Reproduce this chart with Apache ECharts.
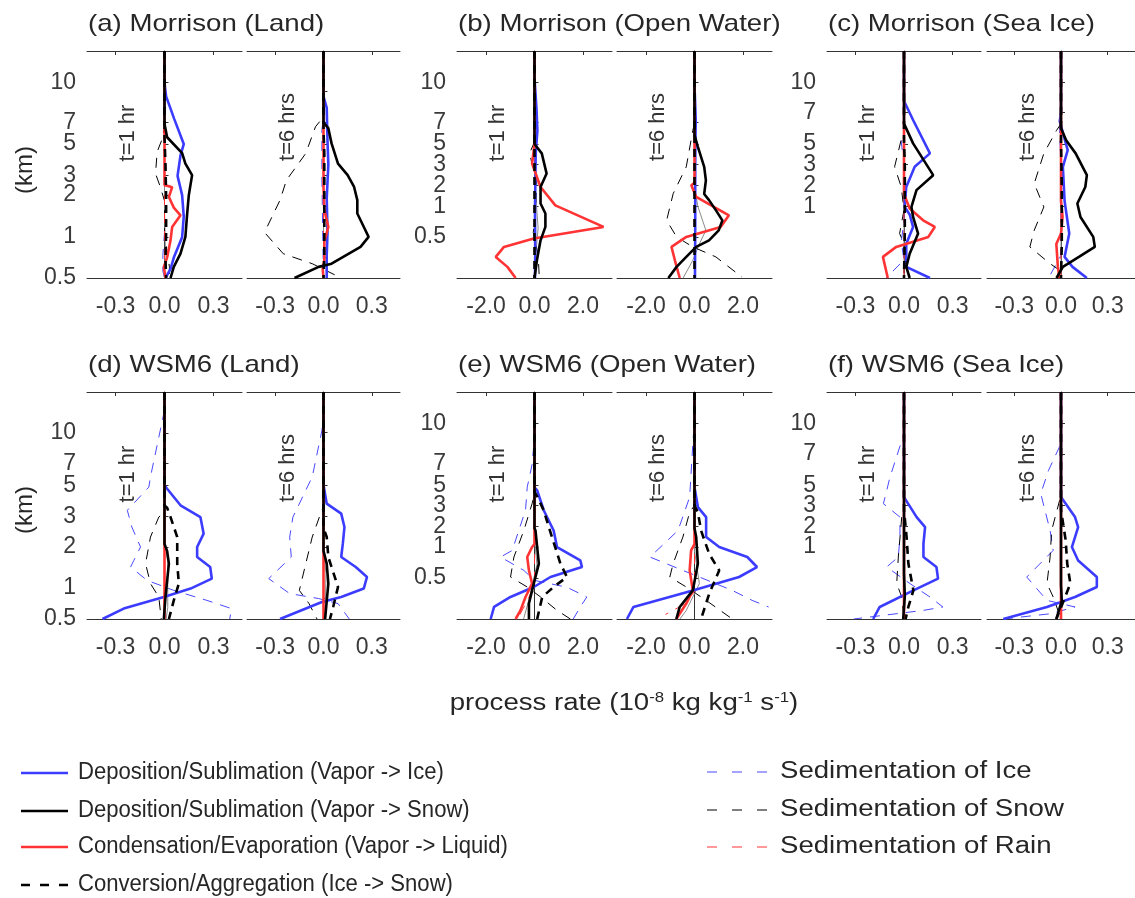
<!DOCTYPE html>
<html><head><meta charset="utf-8">
<script src="https://cdn.jsdelivr.net/npm/echarts@6/dist/echarts.min.js"></script>
<style>html,body{margin:0;padding:0;background:#fff}#c{width:1135px;height:898px}</style>
</head><body><div id="c"></div>
<script>
// ---------- names / labels ----------
const seriesNames = ['Deposition/Sublimation (Vapor -> Ice)','Deposition/Sublimation (Vapor -> Snow)','Condensation/Evaporation (Vapor -> Liquid)','Conversion/Aggregation (Ice -> Snow)','Sedimentation of Ice','Sedimentation of Snow','Sedimentation of Rain'];
const panelTitles = ['(a) Morrison (Land)','(b) Morrison (Open Water)','(c) Morrison (Sea Ice)','(d) WSM6 (Land)','(e) WSM6 (Open Water)','(f) WSM6 (Sea Ice)'];
const heightLabels = ['10','7','5','3','2','1','0.5'];
const xTicksSmall = [-0.3, 0, 0.3];
const xTicksLarge = [-2, 0, 2];
// vertical level (0 = bottom of axis, 100 = top) at which each height label sits
const lvA = [86.2, 68.4, 59.0, 45.3, 36.5, 18.1, 0];
const lvAr = [82.1, 68.4, 59.0, 45.3, 31.6, 9.3];
const lvB = [86.2, 68.4, 59.0, 50.1, 40.9, 31.6, 18.1];
const lvC = [86.2, 72.8, 59.0, 50.1, 40.9, 31.6, 22.9];
const lvD = [81.9, 68.4, 58.9, 45.2, 31.7, 13.7, 0];
const lvDr = [82.1, 68.4, 58.9, 45.2, 31.7, 9.3];
const lvE = [86.2, 68.4, 58.9, 50.1, 40.8, 31.7, 18.1];
const lvF = [86.2, 72.7, 58.9, 50.1, 40.8, 31.7, 22.8];

// ---------- data: [process rate, level] ----------
const zero = [[0,100],[0,0]];
// (a) Morrison Land, t=1 hr
const a1_ice  = [[0,100],[0,86],[0.01,80],[0.06,70],[0.118,59],[0.098,54],[0.08,45],[0.108,36.5],[0.118,27],[0.108,18],[0.057,9],[0.037,4],[0.006,0]];
const a1_snow = [[0,100],[0,68],[0.016,62],[0.108,55],[0.128,50.4],[0.169,45.3],[0.149,36.5],[0.139,28.4],[0.128,18.1],[0.098,10.7],[0.057,4.9],[0.037,0]];
const a1_liq  = [[0,100],[0,41],[0.047,40],[0.027,35.7],[0.057,31],[0.098,27.6],[0.047,22.5],[0.037,16.6],[0.016,9],[-0.004,4.9],[0.006,0]];
const a1_conv = [[0,100],[0,62],[0.006,50],[0.01,35],[0.01,20],[0.006,8],[0.01,0]];
const a1_sedI = [[0,100],[0,20],[-0.01,10],[-0.01,3],[0,0]];
const a1_sedS = [[0,100],[0,68],[-0.01,62],[-0.045,55.6],[-0.055,46],[-0.025,40],[0,34],[0,18],[0.015,12],[0.03,5],[0.03,0]];
const a1_gray = [[0,100],[0,30],[0.005,15],[0,0]];
// (a) Morrison Land, t=6 hrs
const a6_ice  = [[0,100],[0,80],[0.02,75],[0.025,60],[0.03,50],[0.02,35],[0.025,20],[0.02,10],[0.02,0]];
const a6_snow = [[0,100],[0,68.4],[0.03,66],[0.05,59.3],[0.09,50.4],[0.15,45.3],[0.19,40.1],[0.21,34.3],[0.21,28.4],[0.24,24],[0.28,18.1],[0.23,13.7],[0.05,6.3],[-0.03,4.9],[-0.18,0]];
const a6_liq  = [[0,100],[0,40],[0.005,30],[0.03,22.5],[0.005,16],[0.005,8],[-0.005,4],[0,0]];
const a6_conv = [[0,100],[0,65],[0.005,55],[0.005,30],[0.005,10],[0,0]];
const a6_sedI = [[0,100],[0,72],[-0.01,65],[-0.01,45],[-0.005,20],[0,0]];
const a6_sedS = [[0,100],[0,71],[-0.05,66.6],[-0.11,54.9],[-0.23,43.1],[-0.27,34.3],[-0.35,22.5],[-0.36,19.6],[-0.25,10.7],[-0.07,6.3],[0.11,0]];
// (b) Morrison Open Water, t=1 hr
const b1_ice  = [[0,100],[0,88],[0.08,75],[0.12,65],[0.05,55],[0.02,30],[0.03,10],[0.02,0]];
const b1_snow = [[0,100],[0,59],[0.3,54.9],[0.5,46],[0.25,40.1],[0.25,32.8],[0.45,28.4],[0.45,22.5],[0.25,16.6],[0.1,7.8],[0,0]];
const b1_liq  = [[0,100],[0,59],[-0.1,50.4],[0.25,40.1],[0.86,32],[2.85,22.5],[-0.03,17.4],[-1.26,13.7],[-1.6,9.3],[-1.12,4.9],[-0.78,0]];
const b1_sedS = [[0,100],[0,60],[-0.2,55],[-0.1,50],[0.1,45],[0.05,30],[-0.05,20],[0.15,10],[0.2,0]];
const b1_gray = [[0,100],[0,40],[0.08,32],[0.15,22],[0.05,10],[0,0]];
// (b) Morrison Open Water, t=6 hrs
const b6_ice  = [[0,100],[0,85],[0.05,70],[0.03,50],[0.03,20],[0.02,0]];
const b6_snow = [[0,100],[0,63],[0.14,57.8],[0.4,49],[0.47,43],[0.4,37],[0.6,34.3],[0.88,29.9],[1.15,25.4],[1.0,21],[0.6,16.6],[0.07,13.7],[-0.34,9.3],[-0.74,4.9],[-1.08,0]];
const b6_liq  = [[0,100],[0,42],[-0.13,40.9],[0.07,35.7],[1.42,27.6],[1.08,22.5],[-0.34,18.1],[-0.95,13.7],[-0.81,7.8],[-0.61,0]];
const b6_sedS = [[0,100],[0,68],[-0.07,65],[-0.34,49],[-0.88,37.2],[-1.15,25.4],[-0.74,18.1],[-0.07,13.7],[0.88,9.3],[1.96,0.4]];
const b6_gray = [[0,100],[0,40],[0.14,31.5],[0.47,21],[0.2,15],[-0.07,7.8],[-0.47,0]];
// (c) Morrison Sea Ice, t=1 hr
const c1_ice  = [[0,100],[0,78],[0.056,69.6],[0.16,54.9],[0.066,49],[0.014,40.1],[0.004,31.3],[0.035,28],[0.056,22.5],[0.014,15.1],[0.014,4.9],[0.16,0]];
const c1_snow = [[0,100],[0,68],[0.056,59.3],[0.18,45.3],[0.077,38.7],[0.046,31.3],[0.056,26.9],[0.087,19.6],[0.035,10.7],[0.014,4.9],[0.035,0]];
const c1_liq  = [[0,100],[0,37],[0.035,30.6],[0.118,25.4],[0.19,22.5],[0.15,18.1],[-0.048,13.7],[-0.13,9.3],[-0.1,0]];
const c1_conv = [[0,100],[0,60],[0.005,50],[0.005,20],[0,0]];
const c1_sedI = [[0,100],[0,62],[-0.017,60],[0,50],[0,25],[-0.017,16],[0,8],[-0.11,0]];
const c1_sedS = [[0,100],[0,64],[-0.017,61],[-0.058,49],[-0.017,40.1],[0,30],[-0.027,19.6],[0,15],[0,0]];
// (c) Morrison Sea Ice, t=6 hrs
const c6_ice  = [[0,100],[0,73],[-0.008,69],[0.043,56.3],[0.012,49],[0.023,34],[0.053,19.6],[0.023,9.3],[0.074,4.9],[0.166,0]];
const c6_snow = [[0,100],[0,66],[0.033,60.7],[0.094,54.9],[0.166,45.3],[0.156,40.1],[0.105,32.8],[0.125,26.9],[0.207,18.1],[0.217,13.7],[0.115,9.3],[0.012,4.9],[-0.029,0]];
const c6_liq  = [[0,100],[0,34],[0.01,27],[0,19.6],[-0.03,15],[-0.02,4.9],[-0.01,0]];
const c6_conv = [[0,100],[0,60],[0.005,40],[0.005,15],[0,0]];
const c6_sedI = [[0,100],[0,72],[-0.01,65],[0,50],[0,10],[-0.08,0]];
const c6_sedS = [[0,100],[0,68],[-0.029,65],[-0.11,54.9],[-0.172,41.6],[-0.11,31.3],[-0.172,21],[-0.2,13.7],[-0.07,6.3],[-0.008,3.4],[0,0]];
// (d) WSM6 Land, t=1 hr
const d1_ice  = [[0,100],[0,58.9],[0.016,57.4],[0.098,50.1],[0.22,44.9],[0.24,37.6],[0.2,31.7],[0.2,27.3],[0.28,22.9],[0.29,17.8],[0.16,13.4],[-0.004,9.7],[-0.25,4.6],[-0.38,0]];
const d1_snow = [[0,100],[0,33],[0.016,30],[0.027,24.4],[0.006,9.7],[-0.004,0]];
const d1_conv = [[0,100],[0,50],[0.016,49],[0.037,44.9],[0.078,36.1],[0.078,24.4],[0.088,15.6],[0.057,8.2],[0.027,0]];
const d1_sedI = [[0,100],[0,92],[-0.086,62.6],[-0.096,58.1],[-0.228,47.9],[-0.2,40.5],[-0.147,31.7],[-0.188,25.8],[-0.208,22.9],[-0.106,17],[0.057,12.6],[0.26,8.2],[0.41,4.6],[0.4,0]];
const d1_sedS = [[0,100],[0,47],[-0.035,44.9],[-0.086,36.1],[-0.116,24.4],[-0.086,15.6],[-0.035,9.7],[-0.02,0]];
const d1_gray = [[0,100],[0,35],[0.02,25],[0.02,5],[0.01,0]];
// (d) WSM6 Land, t=6 hrs
const d6_ice  = [[0,100],[0,59],[0.02,50.8],[0.11,46.4],[0.13,40.5],[0.12,33.2],[0.11,27.3],[0.2,22.9],[0.27,18.5],[0.25,13.4],[0.11,9.7],[-0.01,7.5],[-0.27,0]];
const d6_snow = [[0,100],[0,30],[0.02,24.4],[0.03,15.6],[0.01,0]];
const d6_conv = [[0,100],[0,40],[0.02,36.1],[0.03,27.3],[0.09,14.1],[0.06,5.3],[0.04,0]];
const d6_sedI = [[0,100],[0,90],[-0.01,83],[-0.07,62.6],[-0.19,44.9],[-0.21,36.1],[-0.2,27.3],[-0.34,17.8],[-0.21,11.2],[-0.03,9],[0.09,6.8],[0.16,0]];
const d6_sedS = [[0,100],[0,49],[-0.01,48],[-0.07,36.1],[-0.11,24.4],[-0.15,12.6],[-0.09,6.8],[-0.04,0]];
const d6_gray = [[0,100],[0,30],[0.015,20],[0.01,0]];
// (e) WSM6 Open Water, t=1 hr
const e1_ice  = [[0,100],[0,58],[0.11,56.7],[0.38,47.9],[0.79,39],[0.93,31.7],[1.89,25.8],[1.96,22.9],[0.66,18.5],[-0.03,14.1],[-0.99,9.7],[-1.67,5.3],[-1.81,0]];
const e1_snow = [[0,100],[0,40],[0.04,39],[0.18,24.4],[-0.03,15.6],[-0.23,6.8],[-0.23,0]];
const e1_liq  = [[0,100],[0,33],[-0.1,31.7],[-0.3,27.3],[-0.23,21.4],[-0.1,15.6],[-0.37,9.7],[-0.58,3.8],[-0.78,0]];
const e1_conv = [[0,100],[0,56],[0.11,54],[0.38,47.9],[0.59,40.5],[1.07,24.4],[1.34,18.5],[0.79,14.1],[0.32,9.7],[0.11,0]];
const e1_sedI = [[0,100],[0,80],[-0.1,68],[-0.3,58.1],[-0.37,48],[-0.92,30.2],[-1.4,27.3],[-0.44,21.4],[0,17],[1.34,14],[2.16,9.7],[1.89,5.3],[1.6,0]];
const e1_sedS = [[0,100],[0,55],[-0.1,50.8],[-0.44,39],[-0.85,27.3],[-0.99,18.5],[-0.3,14.1],[0.25,9.7],[0.93,3.8],[1.48,0]];
const e1_sedR = [[0,100],[0,15],[-0.3,8],[-0.7,0]];
const e1_gray = [[0,100],[0,35],[0.1,24],[-0.2,9.7],[-0.45,0]];
// (e) WSM6 Open Water, t=6 hrs
const e6_ice  = [[0,100],[0,58],[0.14,49.3],[0.48,44.9],[0.48,36.1],[1.02,31.7],[2.18,27.3],[2.58,22.9],[1.84,18.5],[-0.07,12.6],[-2.52,5.3],[-2.79,0]];
const e6_snow = [[0,100],[0,40],[0.07,36.1],[0.14,24.4],[-0.07,12.6],[-0.61,5.3],[-0.75,0]];
const e6_liq  = [[0,100],[0,33],[-0.14,30.2],[-0.2,21.4],[-0.07,12.6],[-0.34,6.8],[-0.75,0]];
const e6_conv = [[0,100],[0,50],[0.14,47],[0.27,39],[0.61,28.6],[1.02,21.4],[0.61,11.2],[0.27,0]];
const e6_sedI = [[0,100],[0,88],[-0.07,77],[-0.2,53.7],[-0.68,39],[-1.84,27.3],[-0.48,21.4],[0.2,18.5],[1.56,12.6],[2.38,8.2],[3.06,5.3]];
const e6_sedS = [[0,100],[0,50],[-0.2,47],[-0.48,36.1],[-0.88,24.4],[-1.02,18.5],[-0.34,14.1],[0.48,8.2],[1.56,0]];
const e6_sedR = [[0,100],[0,12],[-0.5,6],[-1.2,2]];
const e6_gray = [[0,100],[0,30],[0.2,15.6],[-0.34,3.8],[-0.6,0]];
// (f) WSM6 Sea Ice, t=1 hr
const f1_ice  = [[0,100],[0,53.7],[0.078,44.9],[0.13,40.5],[0.12,33.2],[0.12,27.3],[0.2,22.9],[0.21,17.8],[0.058,12.6],[-0.15,5.3],[-0.19,0]];
const f1_snow = [[0,100],[0,20],[0.005,10],[-0.005,0]];
const f1_conv = [[0,100],[0,48],[0.006,47.9],[0.016,36.1],[0.027,24.4],[0.058,12.6],[0.027,5.3],[0.01,0]];
const f1_sedI = [[0,100],[0,81.6],[-0.086,62.6],[-0.127,50.8],[-0.025,44.9],[-0.025,36.1],[-0.035,27.3],[-0.107,22.9],[0.037,15.6],[0.16,9.7],[0.24,5.3],[0.12,3.8],[-0.31,0]];
const f1_sedS = [[0,100],[0,46],[-0.014,44.9],[-0.035,27.3],[-0.045,15.6],[-0.014,9.7],[0,0]];
// (f) WSM6 Sea Ice, t=6 hrs
const f6_ice  = [[0,100],[0,53.7],[0.09,44.9],[0.11,40.5],[0.07,31.7],[0.11,25.8],[0.23,18.5],[0.23,14.1],[0.09,9.7],[-0.09,5.3],[-0.37,0]];
const f6_snow = [[0,100],[0,15],[0.005,8],[-0.03,0]];
const f6_conv = [[0,100],[0,48],[0.01,47.9],[0.03,34.7],[0.04,24.4],[0.06,15.6],[0.01,6.8],[-0.03,0]];
const f6_sedI = [[0,100],[0,85],[-0.01,75.8],[-0.08,65.5],[-0.13,55.2],[-0.07,39],[-0.05,30.2],[-0.22,18.5],[-0.09,8.2],[0.09,5.3],[-0.07,2.3],[-0.37,0]];
const f6_sedS = [[0,100],[0,53.7],[-0.01,52],[-0.06,39],[-0.07,27.3],[-0.09,15.6],[-0.05,9.7],[0,0]];

// ---------- layout ----------
const colLeft = [87, 247, 457, 617, 827, 987];
const colWidth = [155, 153, 155, 155, 154, 155];
const rowTop = [51, 392];
const plotH = 227;
const TXT = '#262626';
const FONT = 'Liberation Sans, Arial, sans-serif';

// subplot definitions: [ice, snow, liq, conv, sedI, sedS, sedR, gray]
const subplots = [
  {c:0,r:0,big:false,lv:lvA, lab:true, t:'t=1 hr', d:[a1_ice,a1_snow,a1_liq,a1_conv,a1_sedI,a1_sedS,zero,a1_gray]},
  {c:1,r:0,big:false,lv:lvAr,lab:false,t:'t=6 hrs',d:[a6_ice,a6_snow,a6_liq,a6_conv,a6_sedI,a6_sedS,zero,zero]},
  {c:2,r:0,big:true, lv:lvB, lab:true, t:'t=1 hr', d:[b1_ice,b1_snow,b1_liq,zero,zero,b1_sedS,zero,b1_gray]},
  {c:3,r:0,big:true, lv:lvB, lab:false,t:'t=6 hrs',d:[b6_ice,b6_snow,b6_liq,zero,zero,b6_sedS,zero,b6_gray]},
  {c:4,r:0,big:false,lv:lvC, lab:true, t:'t=1 hr', d:[c1_ice,c1_snow,c1_liq,c1_conv,c1_sedI,c1_sedS,zero,zero]},
  {c:5,r:0,big:false,lv:lvC, lab:false,t:'t=6 hrs',d:[c6_ice,c6_snow,c6_liq,c6_conv,c6_sedI,c6_sedS,zero,zero]},
  {c:0,r:1,big:false,lv:lvD, lab:true, t:'t=1 hr', d:[d1_ice,d1_snow,zero,d1_conv,d1_sedI,d1_sedS,zero,d1_gray]},
  {c:1,r:1,big:false,lv:lvDr,lab:false,t:'t=6 hrs',d:[d6_ice,d6_snow,zero,d6_conv,d6_sedI,d6_sedS,zero,d6_gray]},
  {c:2,r:1,big:true, lv:lvE, lab:true, t:'t=1 hr', d:[e1_ice,e1_snow,e1_liq,e1_conv,e1_sedI,e1_sedS,e1_sedR,e1_gray]},
  {c:3,r:1,big:true, lv:lvE, lab:false,t:'t=6 hrs',d:[e6_ice,e6_snow,e6_liq,e6_conv,e6_sedI,e6_sedS,e6_sedR,e6_gray]},
  {c:4,r:1,big:false,lv:lvF, lab:true, t:'t=1 hr', d:[f1_ice,f1_snow,zero,f1_conv,f1_sedI,f1_sedS,zero,zero]},
  {c:5,r:1,big:false,lv:lvF, lab:false,t:'t=6 hrs',d:[f6_ice,f6_snow,zero,f6_conv,f6_sedI,f6_sedS,zero,zero]}
];

const styles = [
  {color:'#3c3cff', width:2.6, type:'solid'},
  {color:'#000000', width:2.6, type:'solid'},
  {color:'#ff3333', width:2.6, type:'solid'},
  {color:'#000000', width:2.6, type:[8,6]},
  {color:'#4848ff', width:1, type:[10,8]},
  {color:'#000000', width:1, type:[10,8]},
  {color:'#ff3333', width:1, type:[10,8]},
  {color:'#8a8a8a', width:1, type:'solid'}
];
const drawOrder = [7,4,5,6,0,2,1,3];

const grid = [], xAxis = [], yAxis = [], series = [], graphic = [];
subplots.forEach((sp, g) => {
  const left = colLeft[sp.c], top = rowTop[sp.r], w = colWidth[sp.c];
  grid.push({left: left, top: top, width: w, height: plotH});
  const rng = sp.big ? 3.2 : 0.475;
  const xt = sp.big ? xTicksLarge : xTicksSmall;
  const axLine = {show:true, lineStyle:{color:'#333', width:1}};
  xAxis.push({gridIndex:g, type:'value', position:'bottom', min:-rng, max:rng,
    axisLine:axLine, axisTick:{show:false}, splitLine:{show:false},
    axisLabel:{show:true, customValues:xt, formatter:v => v.toFixed(1), margin:17,
      fontSize:23, color:'#3a3a3a', fontFamily:FONT}});
  xAxis.push({gridIndex:g, type:'value', position:'top', min:-rng, max:rng,
    axisLine:axLine, axisTick:{show:true, inside:true, length:4, customValues:xt, lineStyle:{color:'#333'}},
    splitLine:{show:false}, axisLabel:{show:false}});
  yAxis.push({gridIndex:g, type:'value', min:0, max:100,
    axisLine:axLine, splitLine:{show:false},
    axisTick:{show:true, inside:true, length:4, customValues:sp.lv, lineStyle:{color:'#333'}},
    axisLabel:{show:sp.lab, customValues:sp.lv, margin:11, fontSize:23, color:'#3a3a3a', fontFamily:FONT,
      formatter:v => { const i = sp.lv.findIndex(l => Math.abs(l - v) < 1e-6); return i >= 0 ? heightLabels[i] : ''; }}});
  drawOrder.forEach(k => {
    const st = styles[k];
    series.push({type:'line', name: k < 7 ? seriesNames[k] : 'other', xAxisIndex:2*g, yAxisIndex:g,
      data: sp.d[k], symbol:'none', showSymbol:false, silent:true, color:st.color,
      lineStyle:{color:st.color, width:st.width, type:st.type}, clip:true});
  });
  graphic.push({type:'text', x:left + 41, y:top + (sp.t === 't=1 hr' ? 82 : 76), rotation:Math.PI/2,
    style:{text:sp.t, font:'22px ' + FONT, fill:'#333', textAlign:'center', textVerticalAlign:'middle'}});
});

// panel titles
const titleX = [88, 458, 828];
panelTitles.forEach((t, i) => {
  graphic.push({type:'text', x:titleX[i % 3], y:i < 3 ? 24 : 365, scaleX:1.15,
    style:{text:t, font:'24px ' + FONT, fill:TXT, textAlign:'left', textVerticalAlign:'middle'}});
});
// y-axis names
[170, 510].forEach(y => graphic.push({type:'text', x:25, y:y, rotation:Math.PI/2,
  style:{text:'(km)', font:'24px ' + FONT, fill:TXT, textAlign:'center', textVerticalAlign:'middle'}}));
// x-axis name
graphic.push({type:'text', x:624, y:704, scaleX:1.2, style:{
  text:'process rate (10{s|-8} kg kg{s|-1} s{s|-1})', font:'23px ' + FONT, fill:TXT,
  textAlign:'center', textVerticalAlign:'middle',
  rich:{s:{fontSize:14, fontFamily:FONT, fill:TXT, verticalAlign:'top', padding:[0,0,12,0]}}}});

// legend (drawn as line samples + labels)
const legendLeft = [
  {k:0, y:773}, {k:1, y:811}, {k:2, y:847}, {k:3, y:885}
];
const legendRight = [
  {k:4, y:772}, {k:5, y:810}, {k:6, y:847}
];
legendLeft.forEach(it => {
  const st = styles[it.k];
  graphic.push({type:'line', shape:{x1:21, y1:it.y, x2:68, y2:it.y},
    style:{stroke:st.color, lineWidth:st.width, lineDash: it.k === 3 ? [9,10] : null}});
  graphic.push({type:'text', x:78, y:it.y, scaleX:0.96, style:{text:seriesNames[it.k], font:'23px ' + FONT, fill:TXT, textAlign:'left', textVerticalAlign:'middle'}});
});
legendRight.forEach(it => {
  const st = styles[it.k];
  graphic.push({type:'line', shape:{x1:707, y1:it.y, x2:767, y2:it.y},
    style:{stroke:st.color, lineWidth:1, lineDash:[10,15]}});
  graphic.push({type:'text', x:780, y:it.y, scaleX:1.2, style:{text:seriesNames[it.k], font:'23px ' + FONT, fill:TXT, textAlign:'left', textVerticalAlign:'middle'}});
});

const chart = echarts.init(document.getElementById('c'), null, {renderer:'canvas'});
chart.setOption({backgroundColor:'#fff', animation:false, grid, xAxis, yAxis, series, graphic});
</script></body></html>
